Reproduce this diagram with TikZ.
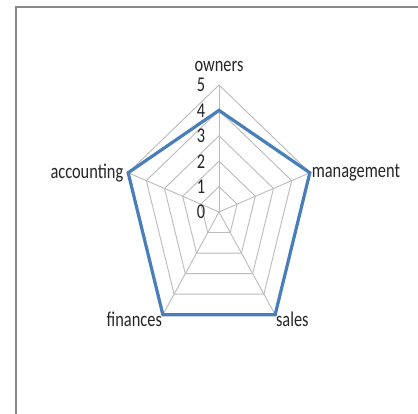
\documentclass[tikz,border=0pt]{standalone}
\usepackage{fontspec}
\setmainfont{Carlito}
\usetikzlibrary{positioning}
\definecolor{framegray}{HTML}{888888}
\definecolor{gridgray}{HTML}{BBBBBB}
\definecolor{seriesblue}{HTML}{4A7EBB}
\tikzset{
  gridline/.style={gridgray,line width=0.9pt},
  series/.style={seriesblue,line width=3.2pt,line join=miter},
  lbl/.style={font=\fontsize{21}{23}\selectfont,xscale=0.78,text=black!85,inner sep=1pt}
}
\begin{document}
\begin{tikzpicture}[x=1pt,y=1pt]
    \useasboundingbox (0,0) rectangle (418,414);
    \fill[white] (0,0) rectangle (418,414);
    \draw[framegray,line width=2pt] (16,0) -- (16,407) -- (418,407);
    \begin{scope}[shift={(219,202)},x=19.1pt,y=25.4pt]
        % axis ends
        \coordinate (owners)     at (90:5);
        \coordinate (management) at (18:5);
        \coordinate (sales)      at (-54:5);
        \coordinate (finances)   at (-126:5);
        \coordinate (accounting) at (162:5);
        \coordinate (mid) at (0,0);
        % web
        \foreach \lev in {1,...,5}
            \draw[gridline] (90:\lev) -- (18:\lev) -- (-54:\lev) -- (-126:\lev) -- (162:\lev) -- cycle;
        \foreach \ax in {owners,management,sales,finances,accounting}
            \draw[gridline] (mid) -- (\ax);
        % values
        \coordinate (v1) at (90:4);
        \coordinate (v2) at (18:5);
        \coordinate (v3) at (-54:5);
        \coordinate (v4) at (-126:5);
        \coordinate (v5) at (162:5);
        \draw[series] (v1) -- (v2) -- (v3) -- (v4) -- (v5) -- cycle;
        % ticks
        \foreach \lev in {0,...,5}
            \node[lbl,anchor=east] (tick\lev) at ([xshift=-13pt]90:\lev) {\lev};
        % axis names
        \node[lbl,anchor=south] (ownersname) at ([yshift=12pt]owners) {owners};
        \node[lbl,anchor=west] (managementname) at ([xshift=1pt]management) {management};
        \node[lbl,anchor=west] (salesname) at ([yshift=-5pt]sales) {sales};
        \node[lbl,anchor=east] (financesname) at ([yshift=-5pt]finances) {finances};
        \node[lbl,anchor=east] (accountingname) at ([xshift=-4pt]accounting) {accounting};
    \end{scope}
\end{tikzpicture}
\end{document}
